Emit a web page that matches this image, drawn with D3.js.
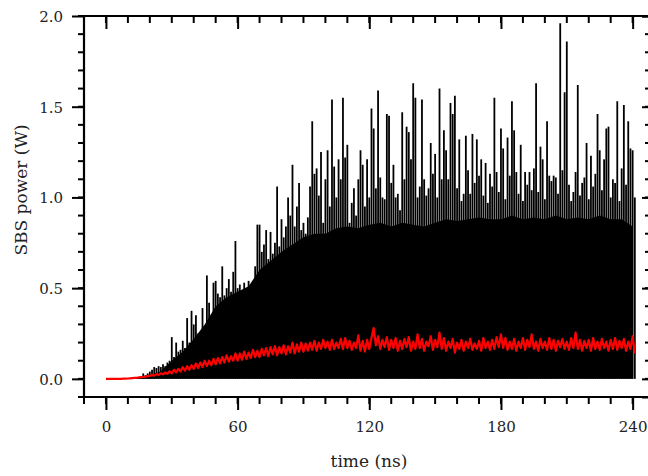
<!DOCTYPE html>
<html>
<head>
<meta charset="utf-8">
<script src="https://cdn.jsdelivr.net/npm/d3@7"></script>
<style>
  body { margin: 0; background: #fff; }
  svg { display: block; }
  .tick-label { font-family: "DejaVu Serif", serif; font-size: 15px; fill: #222; }
  .axis-title { font-family: "DejaVu Serif", serif; font-size: 17px; fill: #222; }
</style>
</head>
<body>
<div id="chart"></div>
<script>
// SBS power vs time, sampled every 1 ns (peak of each ns window)
const sampleStep = 1;
const spikePeaks = [
  0, 0, 0, 0, 0, 0, 0, 0, 0, 0,
  0, 0, 0.005, 0.005, 0.01, 0.01, 0.015, 0.03, 0.02, 0.03,
  0.04, 0.05, 0.065, 0.06, 0.07, 0.065, 0.08, 0.07, 0.09, 0.1,
  0.23, 0.12, 0.2, 0.15, 0.16, 0.21, 0.17, 0.335, 0.2, 0.375,
  0.3, 0.35, 0.25, 0.22, 0.39, 0.28, 0.57, 0.42, 0.3, 0.53,
  0.54, 0.47, 0.45, 0.62, 0.46, 0.5, 0.55, 0.48, 0.59, 0.76,
  0.5, 0.52, 0.49, 0.53, 0.47, 0.54, 0.51, 0.5, 0.62, 0.85,
  0.85, 0.7, 0.74, 0.82, 0.66, 0.81, 0.69, 0.75, 1.06, 0.73,
  0.88, 0.78, 0.84, 1.0, 0.9, 1.18, 0.84, 0.95, 1.08, 0.82,
  0.86, 0.8, 0.89, 1.06, 1.42, 1.13, 1.16, 1.01, 1.25, 0.86,
  1.1, 1.26, 0.95, 1.54, 1.17, 1.0, 1.21, 1.1, 1.55, 1.22,
  1.29, 0.86, 0.97, 1.05, 0.9, 1.1, 1.26, 1.18, 0.95, 1.21,
  1.0, 1.49, 1.38, 1.05, 1.59, 1.11, 1.0, 0.99, 1.46, 1.45,
  1.08, 1.18, 1.0, 1.02, 0.93, 1.47, 1.1, 1.39, 1.36, 1.21,
  1.63, 1.55, 1.0, 1.06, 1.54, 1.1, 1.01, 1.05, 1.3, 1.13,
  1.24, 1.0, 1.6, 1.1, 1.37, 1.26, 1.1, 1.52, 1.46, 1.56,
  1.05, 1.32, 0.98, 1.02, 1.34, 1.15, 1.02, 1.35, 1.08, 1.32,
  1.12, 1.21, 1.01, 1.19, 0.97, 1.13, 1.06, 1.55, 1.14, 1.03,
  1.38, 1.27, 0.99, 1.33, 1.12, 1.53, 1.37, 1.14, 1.02, 1.29,
  0.98, 1.14, 1.07, 1.14, 1.04, 1.16, 1.63, 1.03, 1.28, 1.21,
  0.99, 1.42, 1.12, 1.09, 1.12, 1.11, 1.02, 1.96, 1.15, 1.58,
  1.86, 1.07, 0.98, 1.03, 1.14, 1.62, 1.01, 1.08, 1.11, 1.3,
  0.99, 1.23, 1.06, 1.13, 1.46, 1.26, 1.04, 1.21, 1.38, 1.39,
  1.0, 1.1, 1.08, 1.53, 0.98, 1.16, 1.51, 1.07, 1.42, 1.27,
  1.26, 1.0
];

// top of the solid black band, every 5 ns
const bodyStep = 5;
const bodyLevel = [
  0, 0, 0, 0.005, 0.02, 0.04, 0.1, 0.15, 0.22, 0.3,
  0.4, 0.45, 0.48, 0.51, 0.6, 0.65, 0.7, 0.74, 0.78, 0.8,
  0.8, 0.83, 0.84, 0.83, 0.85, 0.86, 0.84, 0.86, 0.85, 0.84,
  0.86, 0.88, 0.87, 0.88, 0.89, 0.88, 0.88, 0.9, 0.88, 0.89,
  0.88, 0.9, 0.88, 0.89, 0.88, 0.9, 0.88, 0.88, 0.84
];

// averaged SBS power (red), every 1 ns
const meanPower = [
  0, 0, 0, 0, 0, 0, 0, 0, 0.001, 0.001,
  0.002, 0.003, 0.004, 0.005, 0.006, 0.008, 0.009, 0.011, 0.012, 0.015,
  0.016, 0.022, 0.018, 0.026, 0.021, 0.03, 0.025, 0.036, 0.028, 0.042,
  0.03, 0.05, 0.035, 0.055, 0.04, 0.065, 0.045, 0.07, 0.05, 0.075,
  0.055, 0.085, 0.06, 0.09, 0.065, 0.1, 0.07, 0.1, 0.075, 0.11,
  0.08, 0.115, 0.085, 0.12, 0.09, 0.13, 0.095, 0.125, 0.1, 0.14,
  0.1, 0.14, 0.105, 0.15, 0.11, 0.145, 0.115, 0.16, 0.12, 0.155,
  0.12, 0.165, 0.13, 0.17, 0.125, 0.175, 0.135, 0.18, 0.13, 0.175,
  0.14, 0.185, 0.135, 0.18, 0.145, 0.2, 0.14, 0.19, 0.15, 0.2,
  0.15, 0.195, 0.155, 0.2, 0.16, 0.21, 0.155, 0.2, 0.165, 0.215,
  0.17, 0.205, 0.16, 0.215, 0.165, 0.2, 0.17, 0.22, 0.165, 0.225,
  0.17, 0.21, 0.16, 0.2, 0.17, 0.24, 0.155, 0.21, 0.15, 0.215,
  0.165, 0.225, 0.28, 0.185, 0.235, 0.165, 0.215, 0.175, 0.23, 0.16,
  0.215, 0.17, 0.225, 0.155, 0.21, 0.165, 0.22, 0.175, 0.23, 0.155,
  0.205, 0.165, 0.245, 0.17, 0.22, 0.155, 0.205, 0.18, 0.235, 0.16,
  0.215, 0.175, 0.255, 0.165, 0.225, 0.155, 0.205, 0.17, 0.22, 0.145,
  0.2, 0.165, 0.215, 0.155, 0.205, 0.17, 0.22, 0.16, 0.195, 0.165,
  0.21, 0.155, 0.225, 0.17, 0.205, 0.16, 0.215, 0.165, 0.23, 0.175,
  0.245, 0.17, 0.225, 0.16, 0.205, 0.165, 0.22, 0.155, 0.205, 0.17,
  0.225, 0.16, 0.215, 0.175, 0.245, 0.165, 0.205, 0.155, 0.22, 0.17,
  0.205, 0.16, 0.225, 0.165, 0.215, 0.155, 0.21, 0.175, 0.22, 0.165,
  0.205, 0.16, 0.225, 0.17, 0.255, 0.165, 0.215, 0.155, 0.21, 0.17,
  0.215, 0.155, 0.225, 0.165, 0.205, 0.16, 0.22, 0.17, 0.205, 0.155,
  0.215, 0.165, 0.225, 0.16, 0.21, 0.17, 0.22, 0.155, 0.205, 0.165,
  0.235, 0.14
];

const xMajorTicks = [0, 60, 120, 180, 240];
const yMajorTicks = [0.0, 0.5, 1.0, 1.5, 2.0];

const width = 648, height = 476;
const mLeft = 84, mRight = 648, mTop = 16, mBottom = 397;

const svg = d3.select("#chart").append("svg")
  .attr("width", width)
  .attr("height", height);

const x = d3.scaleLinear().domain([-10, 247]).range([mLeft, mRight]);
const y = d3.scaleLinear().domain([-0.1, 2.0]).range([mBottom, mTop]);

const plot = svg.append("g");

// solid band
const bodyArea = d3.area()
  .x((d, i) => x(i * bodyStep))
  .y0(y(0))
  .y1(d => y(d));
plot.append("path")
  .datum(bodyLevel)
  .attr("d", bodyArea)
  .attr("fill", "#000");

// spikes
plot.selectAll("line.spike")
  .data(spikePeaks)
  .join("line")
  .attr("class", "spike")
  .attr("x1", (d, i) => x(i * sampleStep))
  .attr("x2", (d, i) => x(i * sampleStep))
  .attr("y1", y(0))
  .attr("y2", d => y(d))
  .attr("stroke", "#000")
  .attr("stroke-width", 1.8);

// averaged trace
const meanLine = d3.line()
  .x((d, i) => x(i * sampleStep))
  .y(d => y(d));
plot.append("path")
  .datum(meanPower)
  .attr("d", meanLine)
  .attr("fill", "none")
  .attr("stroke", "#ff0000")
  .attr("stroke-width", 2.2)
  .attr("stroke-linejoin", "round");

// axes
const xMinor = d3.range(-10, 250, 10);
const yMinor = d3.range(-1, 21).map(v => v / 10);

const axisBottom = d3.axisBottom(x).tickValues(xMajorTicks).tickSize(13).tickFormat(d3.format("d"));
const axisTop = d3.axisTop(x).tickValues(xMajorTicks).tickSize(-13).tickFormat("");
const axisLeft = d3.axisLeft(y).tickValues(yMajorTicks).tickSize(12).tickFormat(d3.format(".1f"));
const axisRight = d3.axisRight(y).tickValues(yMajorTicks).tickSize(-7).tickFormat("");

function minor(g, scale, vals, orient, len) {
  g.selectAll("line.minor").data(vals).join("line")
    .attr("class", "minor")
    .attr("x1", d => orient === "h" ? scale(d) : 0)
    .attr("x2", d => orient === "h" ? scale(d) : len)
    .attr("y1", d => orient === "h" ? 0 : scale(d))
    .attr("y2", d => orient === "h" ? len : scale(d))
    .attr("stroke", "#000")
    .attr("stroke-width", 2);
}

function style(g) {
  g.select(".domain").attr("stroke", "#000").attr("stroke-width", 2.2);
  g.selectAll(".tick line").attr("stroke", "#000").attr("stroke-width", 2);
  g.selectAll(".tick text").attr("class", "tick-label").attr("fill", "#222");
}

const gb = svg.append("g").attr("transform", `translate(0,${mBottom})`).call(axisBottom).call(style);
gb.selectAll(".tick text").attr("dy", "0").attr("y", 35);
minor(gb, x, xMinor, "h", 7);

const gt = svg.append("g").attr("transform", `translate(0,${mTop})`).call(axisTop).call(style);
minor(gt, x, xMinor, "h", 7);

const gl = svg.append("g").attr("transform", `translate(${mLeft},0)`).call(axisLeft).call(style);
gl.selectAll(".tick text").attr("x", -21).attr("dy", "0.36em");
minor(gl, y, yMinor, "v", -6);

const gr = svg.append("g").attr("transform", `translate(${mRight + 1},0)`).call(axisRight).call(style);
minor(gr, y, yMinor, "v", -4);

svg.selectAll(".domain").attr("fill", "none");
gb.select(".domain").attr("d", `M${mLeft},0H${mRight + 1}`);
gt.select(".domain").attr("d", `M${mLeft},0H${mRight + 1}`);
gl.select(".domain").attr("d", `M0,${mTop}V${mBottom}`);

svg.append("text")
  .attr("class", "axis-title")
  .attr("x", 369)
  .attr("y", 467)
  .attr("text-anchor", "middle")
  .text("time (ns)");

svg.append("text")
  .attr("class", "axis-title")
  .attr("transform", "translate(27,190) rotate(-90)")
  .attr("text-anchor", "middle")
  .text("SBS power (W)");
</script>
</body>
</html>
